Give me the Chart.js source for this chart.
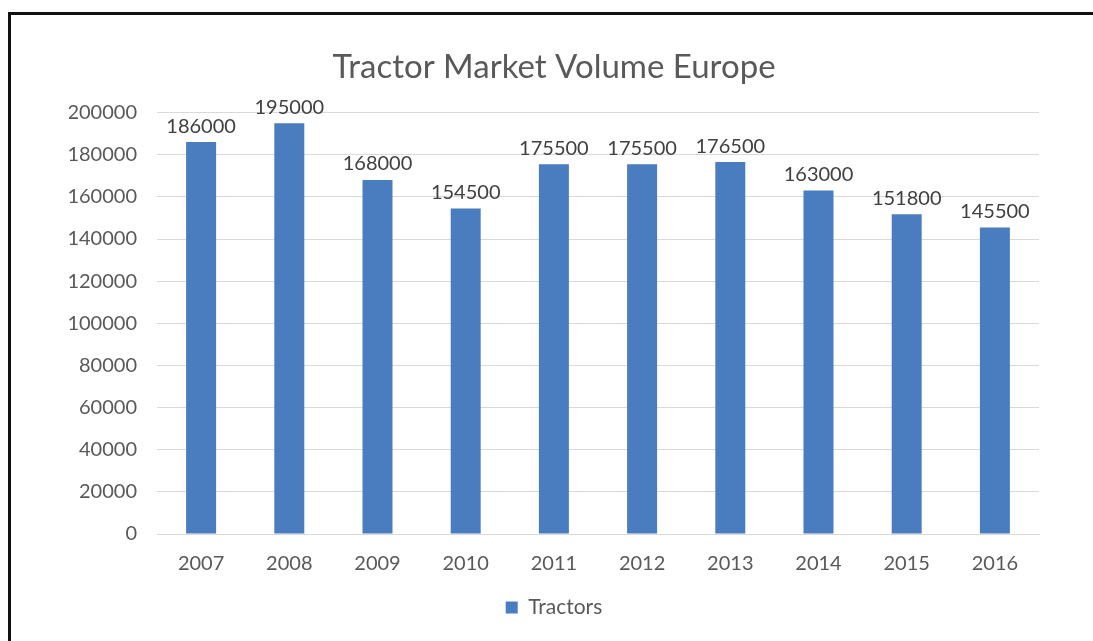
<!DOCTYPE html>
<html>
<head>
<meta charset="utf-8">
<script src="https://cdn.jsdelivr.net/npm/chart.js@4/dist/chart.umd.min.js"></script>
<style>
  html, body { margin: 0; padding: 0; background: #fff; }
  #marco {
    position: absolute; left: 8px; top: 12px; width: 1100px; height: 640px;
    border-top: 3px solid #111; border-left: 3px solid #111;
  }
  #contenedor { position: absolute; left: 0; top: 0; width: 1093px; height: 641px; }
</style>
</head>
<body>
<div id="marco"></div>
<div id="contenedor"><canvas id="graficaTractores"></canvas></div>
<script>
var colorBarra = "#4a7dbf";
var colorTexto = "#595959";
var colorRejilla = "#d9d9d9";
var fuente = "Lato, 'Open Sans', sans-serif";

var anios = ['2007', '2008', '2009', '2010', '2011', '2012', '2013', '2014', '2015', '2016'];

var tractores = [186000, 195000, 168000, 154500, 175500, 175500, 176500, 163000, 151800, 145500];

var marcasEjeY = [0, 20000, 40000, 60000, 80000, 100000, 120000, 140000, 160000, 180000, 200000];

// escribe el valor encima de cada barra
var etiquetasValor = {
    id: 'etiquetasValor',
    afterDatasetsDraw: function (chart) {
        var ctx = chart.ctx;
        ctx.save();
        ctx.font = "20px " + fuente;
        ctx.fillStyle = "#404040";
        ctx.textAlign = "center";
        ctx.textBaseline = "bottom";
        chart.data.datasets.forEach(function (ds, i) {
            chart.getDatasetMeta(i).data.forEach(function (barra, j) {
                ctx.fillText(ds.data[j], barra.x, barra.y - 6);
            });
        });
        ctx.restore();
    }
};

var datosGrafica = {
    labels: anios,
    datasets: [{
        label: 'Tractors',
        data: tractores,
        backgroundColor: colorBarra,
        borderWidth: 0,
        barPercentage: 0.5,
        categoryPercentage: 0.68
    }]
};

var configuracion = {
    type: 'bar',
    data: datosGrafica,
    plugins: [etiquetasValor],
    options: {
        responsive: true,
        maintainAspectRatio: false,
        animation: false,
        layout: { padding: { top: 48, left: 69, right: 54, bottom: 13 } },
        plugins: {
            title: {
                display: true,
                text: 'Tractor Market Volume Europe',
                color: colorTexto,
                font: { family: fuente, size: 33, weight: 'normal' },
                padding: { top: 0, bottom: 25 }
            },
            legend: {
                position: 'bottom',
                labels: {
                    color: colorTexto,
                    font: { family: fuente, size: 21 },
                    boxWidth: 12,
                    boxHeight: 12,
                    padding: 3
                }
            },
            tooltip: { enabled: false }
        },
        scales: {
            x: {
                grid: { display: false, drawTicks: false },
                border: { color: colorRejilla },
                ticks: { color: colorTexto, font: { family: fuente, size: 20 }, padding: 18 }
            },
            y: {
                min: 0,
                max: 200000,
                afterBuildTicks: function (eje) {
                    eje.ticks = marcasEjeY.map(function (v) { return { value: v }; });
                },
                afterFit: function (eje) { eje.width = 88; },
                grid: { color: colorRejilla, drawTicks: false },
                border: { display: false },
                ticks: {
                    color: colorTexto,
                    font: { family: fuente, size: 20 },
                    padding: 20,
                    callback: function (v) { return v; }
                }
            }
        }
    }
};

var graficaTractores = new Chart(document.getElementById('graficaTractores'), configuracion);
</script>
</body>
</html>
